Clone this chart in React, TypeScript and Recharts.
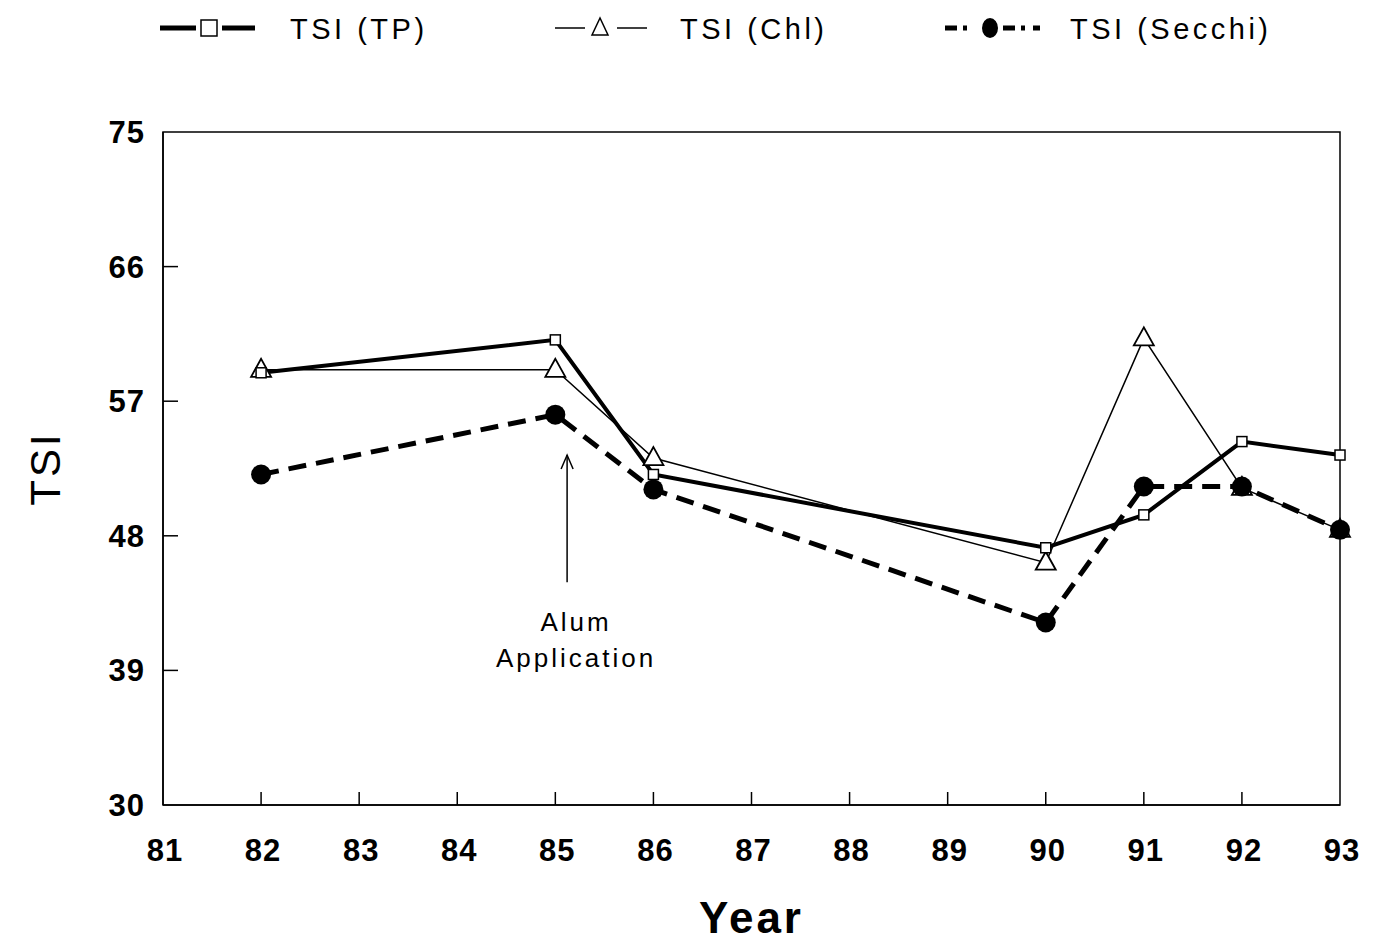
import { Line, LineChart, ReferenceArea, ReferenceLine, XAxis, YAxis } from 'recharts'

const years = [82, 85, 86, 90, 91, 92, 93]
const tsiTP = [58.9, 61.1, 52.1, 47.2, 49.4, 54.3, 53.4]
const tsiChl = [59.1, 59.1, 53.2, 46.2, 61.2, 51.2, 48.4]
const tsiSecchi = [52.1, 56.1, 51.1, 42.2, 51.3, 51.3, 48.4]

const seriesNames = ['TSI (TP)', 'TSI (Chl)', 'TSI (Secchi)']

const xTicks = [81, 82, 83, 84, 85, 86, 87, 88, 89, 90, 91, 92, 93]
const yTicks = [30, 39, 48, 57, 66, 75]

const arrowSegment = [
  { x: 85.12, y: 44.9 },
  { x: 85.12, y: 53.4 },
]

const data = years.map((year, i) => ({
  year,
  tp: tsiTP[i],
  chl: tsiChl[i],
  secchi: tsiSecchi[i],
}))

const FONT = 'Arial, "Liberation Sans", Helvetica, sans-serif'

const SquareDot = ({ cx, cy }: any) => (
  <rect x={cx - 5} y={cy - 5} width={10} height={10} fill="#fff" stroke="#000" strokeWidth={1.5} />
)

const TriangleDot = ({ cx, cy }: any) => (
  <polygon
    points={`${cx},${cy - 11} ${cx - 10},${cy + 7} ${cx + 10},${cy + 7}`}
    fill="#fff"
    stroke="#000"
    strokeWidth={1.8}
  />
)

const CircleDot = ({ cx, cy }: any) => <circle cx={cx} cy={cy} r={10} fill="#000" />

const YTick = ({ x, y, payload }: any) => {
  const edge = payload.value === 30 || payload.value === 75
  return (
    <g>
      {!edge && <line x1={x} y1={y} x2={x + 15} y2={y} stroke="#000" strokeWidth={1.5} />}
      <text x={x - 18} y={y + 11} textAnchor="end" fontFamily={FONT} fontWeight="bold" fontSize={31} letterSpacing={1} fill="#000">
        {payload.value}
      </text>
    </g>
  )
}

const XTick = ({ x, y, payload }: any) => {
  const edge = payload.value === 81 || payload.value === 93
  return (
    <g>
      {!edge && <line x1={x} y1={y} x2={x} y2={y - 13} stroke="#000" strokeWidth={1.5} />}
      <text x={x + 2} y={y + 56} textAnchor="middle" fontFamily={FONT} fontWeight="bold" fontSize={31} letterSpacing={1} fill="#000">
        {payload.value}
      </text>
    </g>
  )
}

const AlumArrow = ({ x1, y1, x2, y2 }: any) => {
  const top = Math.min(y1, y2)
  const bottom = Math.max(y1, y2)
  return (
    <g>
      <line x1={x1} y1={bottom} x2={x2} y2={top} stroke="#000" strokeWidth={1.5} />
      <polyline points={`${x1 - 6},${top + 14} ${x1},${top} ${x1 + 6},${top + 14}`} fill="none" stroke="#000" strokeWidth={1.5} />
      <text x={x1 + 9} y={bottom + 49} textAnchor="middle" fontFamily={FONT} fontSize={26} letterSpacing={3} fill="#000">
        Alum
      </text>
      <text x={x1 + 9} y={bottom + 85} textAnchor="middle" fontFamily={FONT} fontSize={26} letterSpacing={3} fill="#000">
        Application
      </text>
    </g>
  )
}

// legend sits above the plot, one symbol + caption per series
const legendSpots = [
  { x0: 160, text: 290 },
  { x0: 555, text: 680 },
  { x0: 945, text: 1070 },
]

const LegendSymbol = ({ index, x0 }: { index: number; x0: number }) => {
  const y = 28
  if (index === 0) {
    return (
      <g>
        <line x1={x0} y1={y} x2={x0 + 36} y2={y} stroke="#000" strokeWidth={5} />
        <rect x={x0 + 41} y={y - 8} width={16} height={16} fill="#fff" stroke="#000" strokeWidth={1.5} />
        <line x1={x0 + 62} y1={y} x2={x0 + 95} y2={y} stroke="#000" strokeWidth={5} />
      </g>
    )
  }
  if (index === 1) {
    return (
      <g>
        <line x1={x0} y1={y} x2={x0 + 30} y2={y} stroke="#000" strokeWidth={1.5} />
        <polygon points={`${x0 + 45},${y - 10} ${x0 + 37},${y + 7} ${x0 + 53},${y + 7}`} fill="#fff" stroke="#000" strokeWidth={1.5} />
        <line x1={x0 + 62} y1={y} x2={x0 + 92} y2={y} stroke="#000" strokeWidth={1.5} />
      </g>
    )
  }
  return (
    <g>
      <line x1={x0} y1={y} x2={x0 + 30} y2={y} stroke="#000" strokeWidth={5} strokeDasharray="12 6 4 8" />
      <ellipse cx={x0 + 45} cy={y} rx={8} ry={10} fill="#000" />
      <line x1={x0 + 58} y1={y} x2={x0 + 95} y2={y} stroke="#000" strokeWidth={5} strokeDasharray="12 6 4 8" />
    </g>
  )
}

const ChartLegend = () => (
  <svg width={1380} height={60} style={{ position: 'absolute', left: 0, top: 0, display: 'block' }}>
    {seriesNames.map((name, i) => (
      <g key={name}>
        <LegendSymbol index={i} x0={legendSpots[i].x0} />
        <text x={legendSpots[i].text} y={39} fontFamily={FONT} fontSize={29} letterSpacing={3.5} fill="#000">
          {name}
        </text>
      </g>
    ))}
  </svg>
)

export default function App() {
  return (
    <div style={{ position: 'absolute', left: 0, top: 0, width: 1380, height: 941, background: '#fff' }}>
      <LineChart width={1380} height={941} data={data} margin={{ top: 132, right: 40, left: 93, bottom: 0 }}>
        <XAxis
          dataKey="year"
          type="number"
          domain={[81, 93]}
          ticks={xTicks}
          interval={0}
          height={136}
          tickSize={0}
          tickMargin={0}
          tick={<XTick />}
          axisLine={{ stroke: '#000', strokeWidth: 1.5 }}
          tickLine={false}
          label={{
            content: ({ viewBox }: any) => (
              <text
                x={viewBox.x + viewBox.width / 2}
                y={viewBox.y + 128}
                textAnchor="middle"
                fontFamily={FONT}
                fontWeight="bold"
                fontSize={44}
                letterSpacing={3}
                fill="#000"
              >
                Year
              </text>
            ),
          }}
        />
        <YAxis
          type="number"
          domain={[30, 75]}
          ticks={yTicks}
          interval={0}
          width={70}
          tickSize={0}
          tickMargin={0}
          tick={<YTick />}
          axisLine={{ stroke: '#000', strokeWidth: 1.5 }}
          tickLine={false}
          label={{
            content: ({ viewBox }: any) => {
              const cx = viewBox.x - 48
              const cy = viewBox.y + viewBox.height / 2
              return (
                <text
                  x={cx}
                  y={cy}
                  textAnchor="middle"
                  dominantBaseline="central"
                  transform={`rotate(-90 ${cx} ${cy})`}
                  fontFamily={FONT}
                  fontSize={42}
                  letterSpacing={3}
                  fill="#000"
                >
                  TSI
                </text>
              )
            },
          }}
        />
        <ReferenceArea x1={81} x2={93} y1={30} y2={75} fill="none" stroke="#000" strokeWidth={1.5} />
        <Line
          name={seriesNames[1]}
          dataKey="chl"
          stroke="#000"
          strokeWidth={1.5}
          dot={<TriangleDot />}
          activeDot={false}
          isAnimationActive={false}
        />
        <Line
          name={seriesNames[0]}
          dataKey="tp"
          stroke="#000"
          strokeWidth={4}
          dot={<SquareDot />}
          activeDot={false}
          isAnimationActive={false}
        />
        <Line
          name={seriesNames[2]}
          dataKey="secchi"
          stroke="#000"
          strokeWidth={5}
          strokeDasharray="18 10"
          dot={<CircleDot />}
          activeDot={false}
          isAnimationActive={false}
        />
        <ReferenceLine segment={arrowSegment} shape={<AlumArrow />} />
      </LineChart>
      <ChartLegend />
    </div>
  )
}
